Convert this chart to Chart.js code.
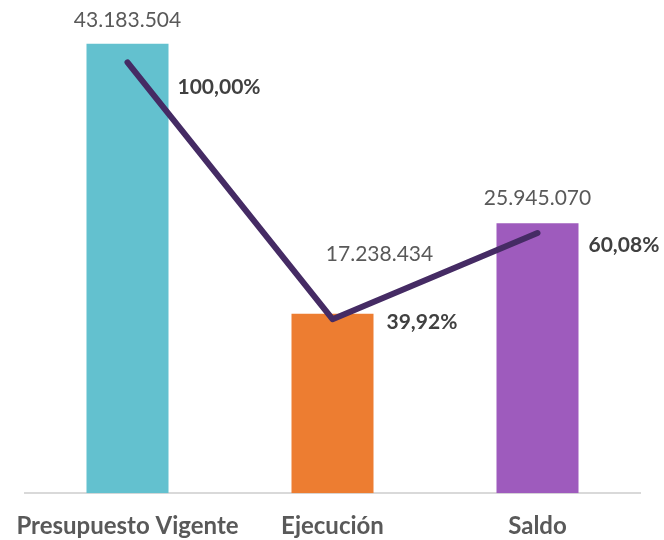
<!DOCTYPE html>
<html>
<head>
<meta charset="utf-8">
<script src="https://cdn.jsdelivr.net/npm/chart.js@4.4.1/dist/chart.umd.min.js"></script>
<style>
  html, body { margin: 0; padding: 0; background: #ffffff; }
  #wrap { width: 664px; height: 540px; position: relative; }
</style>
</head>
<body>
<div id="wrap"><canvas id="c" width="664" height="540"></canvas></div>
<script>
const categories = ["Presupuesto Vigente", "Ejecución", "Saldo"];
const amounts = [43183504, 17238434, 25945070];
const percents = [100.00, 39.92, 60.08];
const barColors = ["#63C1CF", "#ED7D31", "#9E5BBD"];

function fmtAmount(v) {
  return String(Math.round(v)).replace(/\B(?=(\d{3})+(?!\d))/g, ".");
}
function fmtPct(v) {
  return v.toFixed(2).replace(".", ",") + "%";
}

const labelPlugin = {
  id: "valueLabels",
  afterDatasetsDraw(chart, args, opts) {
    const ctx = chart.ctx;
    ctx.save();
    const barMeta = chart.getDatasetMeta(0);
    ctx.font = "21px Lato";
    ctx.fillStyle = "#595959";
    ctx.textAlign = "center";
    ctx.textBaseline = "middle";
    barMeta.data.forEach((el, i) => {
      const off = opts.barOffsets[i];
      ctx.fillText(fmtAmount(amounts[i]), el.x + off[0], el.y + off[1]);
    });
    const lineMeta = chart.getDatasetMeta(1);
    ctx.font = "bold 21px Lato";
    ctx.fillStyle = "#404040";
    ctx.textAlign = "left";
    lineMeta.data.forEach((el, i) => {
      const off = opts.pctOffsets[i];
      ctx.fillText(fmtPct(percents[i]), el.x + off[0], el.y + off[1]);
    });
    ctx.restore();
  }
};

new Chart(document.getElementById("c"), {
  data: {
    labels: categories,
    datasets: [
      {
        type: "bar",
        data: amounts,
        yAxisID: "y",
        backgroundColor: barColors,
        barPercentage: 0.4,
        categoryPercentage: 1.0,
        order: 1
      },
      {
        type: "line",
        data: percents,
        yAxisID: "y2",
        borderColor: "#452B64",
        borderWidth: 6,
        borderCapStyle: "round",
        borderJoinStyle: "round",
        pointRadius: 0,
        pointHoverRadius: 0,
        tension: 0,
        order: 0
      }
    ]
  },
  options: {
    responsive: false,
    animation: false,
    events: [],
    layout: { padding: { left: 25, right: 24, top: 0, bottom: -20 } },
    plugins: {
      legend: { display: false },
      tooltip: { enabled: false },
      valueLabels: {
        barOffsets: [[0, -24], [47, -60], [0, -25]],
        pctOffsets: [[50, 25], [54, 3], [51, 12]]
      }
    },
    scales: {
      x: {
        grid: { display: false, drawTicks: false },
        border: { display: true, color: "#D9D9D9", width: 2 },
        ticks: {
          padding: 19,
          autoSkip: false,
          color: "#595959",
          font: { family: "Lato", size: 24, weight: "bold" },
          maxRotation: 0
        },
        afterFit(scale) {
          scale.paddingLeft = 0;
          scale.paddingRight = 0;
        }
      },
      y: {
        display: false,
        min: 0,
        max: 47400000
      },
      y2: {
        display: false,
        position: "right",
        min: -0.8,
        max: 114.6
      }
    }
  },
  plugins: [labelPlugin]
});
</script>
</body>
</html>
